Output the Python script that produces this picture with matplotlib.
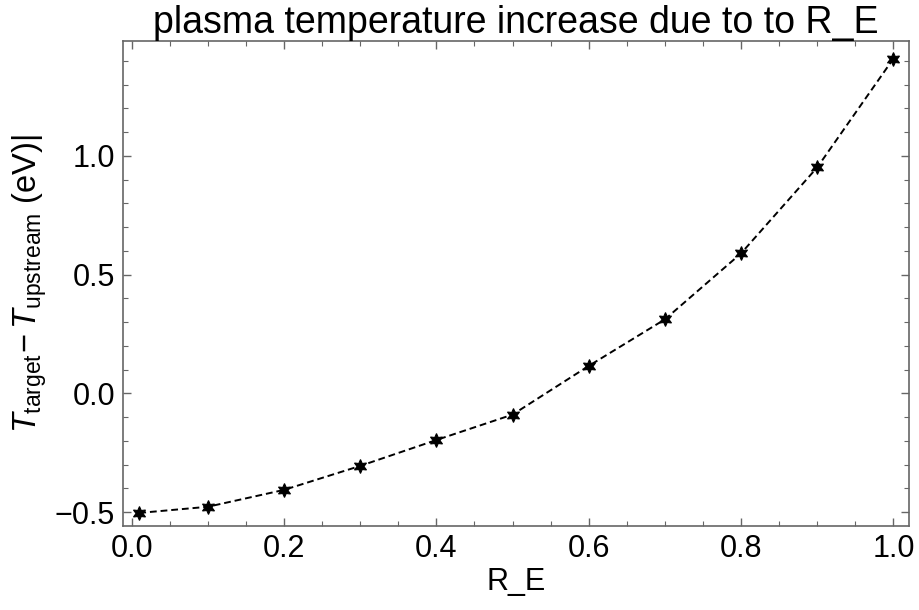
import matplotlib
matplotlib.use("Agg")
import matplotlib.pyplot as plt
from matplotlib.ticker import MultipleLocator

plt.rcParams["font.family"] = ["Liberation Sans", "DejaVu Sans"]
plt.rcParams["mathtext.fontset"] = "custom"
plt.rcParams["mathtext.rm"] = "Liberation Sans"
plt.rcParams["mathtext.it"] = "Liberation Sans:italic"
plt.rcParams["axes.unicode_minus"] = True

r_e = [0.01, 0.1, 0.2, 0.3, 0.4, 0.5, 0.6, 0.7, 0.8, 0.9, 1.0]
delta_t = [-0.503, -0.477, -0.406, -0.305, -0.196, -0.089, 0.116, 0.312, 0.590, 0.952, 1.41]

title = "plasma temperature increase due to to R_E"
xlabel = "R_E"
ylabel = r"$T_{\rm target}\!-T_{\rm upstream}$ (eV)|"

fig = plt.figure(figsize=(9.2, 6.1), dpi=100)
ax = fig.add_axes([0.134, 0.1377, 0.8537, 0.7951])

ax.plot(r_e, delta_t, linestyle=(0, (3.5, 2)), color="black", linewidth=1.4,
        marker=(6, 1, 0), markersize=10, markerfacecolor="black",
        markeredgecolor="black", markeredgewidth=0.8)

ax.set_xlim(-0.011, 1.020)
ax.set_ylim(-0.558, 1.484)

ax.xaxis.set_major_locator(MultipleLocator(0.2))
ax.xaxis.set_minor_locator(MultipleLocator(0.05))
ax.yaxis.set_major_locator(MultipleLocator(0.5))
ax.yaxis.set_minor_locator(MultipleLocator(0.1))
ax.xaxis.set_major_formatter(plt.FuncFormatter(lambda v, p: f"{v:.1f}".replace("-", "\u2212")))
ax.yaxis.set_major_formatter(plt.FuncFormatter(lambda v, p: f"{v:.1f}".replace("-", "\u2212")))

spine_col = "#666666"
for s in ax.spines.values():
    s.set_color(spine_col)
    s.set_linewidth(1.2)

ax.tick_params(which="both", direction="in", top=True, right=True,
               color=spine_col, labelsize=22, pad=6)
ax.tick_params(which="major", length=6, width=1.0)
ax.tick_params(which="minor", length=3.5, width=0.8)

ax.set_xlabel(xlabel, fontsize=22, labelpad=2)
ax.set_ylabel(ylabel, fontsize=23.5, labelpad=4)
ax.set_title(title, fontsize=27, pad=0)

fig.savefig("out.png", dpi=100)
